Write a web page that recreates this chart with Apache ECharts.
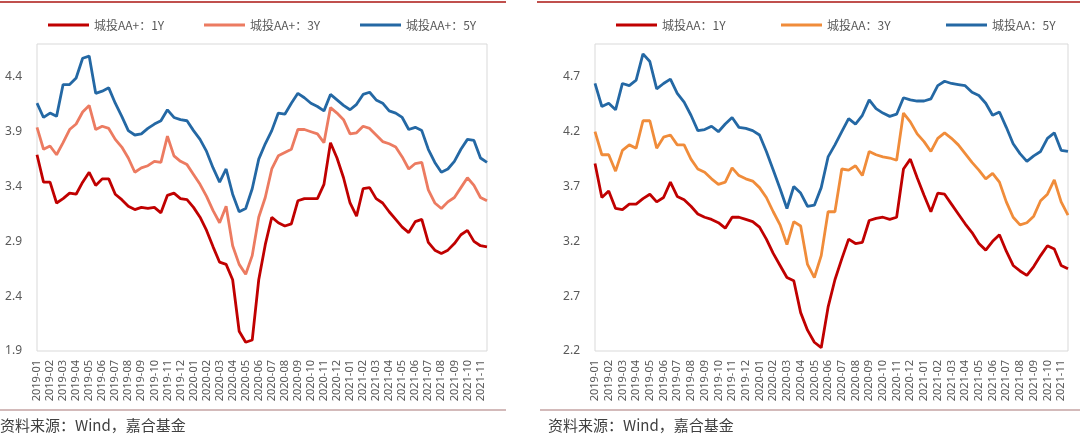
<!DOCTYPE html>
<html><head><meta charset="utf-8">
<script src="https://cdn.jsdelivr.net/npm/echarts@6/dist/echarts.min.js"></script>
<style>html,body{margin:0;padding:0;background:#fff}#c{width:1080px;height:435px}</style>
</head><body><div id="c"></div>
<script>
// tick labels (months); two observations per month (1st & 16th)
const months = ['2019-01','2019-02','2019-03','2019-04','2019-05','2019-06','2019-07','2019-08','2019-09','2019-10','2019-11','2019-12',
  '2020-01','2020-02','2020-03','2020-04','2020-05','2020-06','2020-07','2020-08','2020-09','2020-10','2020-11','2020-12',
  '2021-01','2021-02','2021-03','2021-04','2021-05','2021-06','2021-07','2021-08','2021-09','2021-10','2021-11'];
const halfDays = ['01','16'];
const categories = [];
months.forEach(m => halfDays.forEach(d => categories.push(m + '-' + d)));

const aaPlus1Y = [3.69,3.44,3.44,3.25,3.29,3.34,3.33,3.44,3.53,3.41,
  3.47,3.47,3.33,3.28,3.22,3.19,3.21,3.20,3.21,3.16,
  3.32,3.34,3.29,3.28,3.21,3.12,3.00,2.85,2.71,2.69,
  2.55,2.08,1.98,2.00,2.55,2.87,3.12,3.07,3.04,3.06,
  3.27,3.29,3.29,3.29,3.42,3.80,3.66,3.48,3.25,3.13,
  3.38,3.39,3.29,3.25,3.17,3.10,3.03,2.98,3.08,3.10,
  2.89,2.82,2.79,2.82,2.88,2.96,3.00,2.90,2.86,2.85];
const aaPlus3Y = [3.94,3.74,3.77,3.69,3.80,3.92,3.97,4.08,4.14,3.92,
  3.95,3.93,3.83,3.76,3.66,3.53,3.57,3.59,3.63,3.62,
  3.86,3.68,3.63,3.60,3.51,3.42,3.31,3.18,3.07,3.22,
  2.86,2.69,2.60,2.77,3.12,3.30,3.56,3.68,3.71,3.74,
  3.92,3.92,3.90,3.88,3.80,4.12,4.07,4.01,3.88,3.89,
  3.95,3.93,3.87,3.81,3.79,3.76,3.67,3.56,3.61,3.62,
  3.37,3.25,3.20,3.26,3.30,3.39,3.48,3.41,3.30,3.27];
const aaPlus5Y = [4.16,4.03,4.07,4.04,4.33,4.33,4.39,4.57,4.59,4.25,
  4.27,4.30,4.16,4.04,3.91,3.87,3.88,3.93,3.97,4.00,
  4.10,4.03,4.01,4.00,3.91,3.83,3.72,3.57,3.44,3.56,
  3.33,3.17,3.20,3.38,3.65,3.79,3.91,4.07,4.06,4.16,
  4.25,4.21,4.16,4.13,4.09,4.24,4.19,4.14,4.10,4.15,
  4.24,4.26,4.19,4.16,4.09,4.07,4.03,3.92,3.94,3.91,
  3.74,3.62,3.53,3.56,3.63,3.74,3.83,3.82,3.66,3.62];
const aa1Y = [3.91,3.60,3.66,3.50,3.49,3.54,3.54,3.59,3.63,3.56,
  3.60,3.74,3.61,3.58,3.52,3.45,3.42,3.40,3.37,3.32,
  3.42,3.42,3.40,3.38,3.33,3.22,3.09,2.98,2.87,2.84,
  2.55,2.39,2.28,2.23,2.60,2.85,3.04,3.22,3.18,3.19,
  3.39,3.41,3.42,3.40,3.42,3.86,3.95,3.78,3.62,3.47,
  3.64,3.63,3.54,3.45,3.36,3.28,3.18,3.12,3.20,3.26,
  3.11,2.98,2.93,2.89,2.97,3.07,3.16,3.13,2.98,2.95];
const aa3Y = [4.20,3.99,3.99,3.84,4.03,4.08,4.05,4.30,4.30,4.05,
  4.15,4.17,4.08,4.08,3.95,3.86,3.83,3.77,3.72,3.74,
  3.87,3.80,3.77,3.75,3.69,3.60,3.47,3.35,3.17,3.38,
  3.34,2.99,2.87,3.07,3.47,3.47,3.86,3.85,3.89,3.80,
  4.02,3.99,3.97,3.96,3.94,4.37,4.29,4.18,4.11,4.02,
  4.14,4.19,4.14,4.08,4.00,3.92,3.85,3.77,3.82,3.74,
  3.56,3.42,3.35,3.37,3.43,3.57,3.63,3.76,3.56,3.44];
const aa5Y = [4.64,4.43,4.46,4.40,4.64,4.62,4.67,4.91,4.84,4.59,
  4.64,4.68,4.55,4.47,4.35,4.21,4.22,4.25,4.20,4.27,
  4.33,4.24,4.23,4.21,4.17,4.02,3.85,3.68,3.50,3.70,
  3.64,3.52,3.53,3.69,3.97,4.08,4.20,4.32,4.27,4.35,
  4.49,4.41,4.37,4.34,4.36,4.51,4.49,4.48,4.48,4.50,
  4.62,4.66,4.64,4.63,4.62,4.56,4.53,4.46,4.35,4.38,
  4.24,4.09,4.00,3.93,3.98,4.02,4.14,4.19,4.03,4.02];

const names = ['城投AA+：1Y','城投AA+：3Y','城投AA+：5Y','城投AA：1Y','城投AA：3Y','城投AA：5Y'];
const colors = ['#C00000','#EC7B61','#2468A4','#C00000','#F08C3A','#2468A4'];
const source = '资料来源：Wind，嘉合基金';

const labelColor = '#595959';
const numFont = 'Noto Sans';
const cjkFont = 'Noto Sans CJK SC';

function xAxis(gi){
  return {type:'category', gridIndex:gi, data:categories, boundaryGap:false,
    axisLine:{show:false}, axisTick:{show:false}, splitLine:{show:false},
    axisLabel:{interval:1, rotate:90, margin:9, fontSize:11, color:labelColor, fontFamily:numFont,
      formatter: v => v.slice(0,7)}};
}
function yAxis(gi,min,max){
  return {type:'value', gridIndex:gi, min:min, max:max, interval:0.5,
    axisLine:{show:false}, axisTick:{show:false}, splitLine:{show:false},
    axisLabel:{showMaxLabel:false, margin:15, fontSize:12, color:labelColor, fontFamily:numFont,
      formatter: v => v.toFixed(1)}};
}
function series(i, data, gi){
  return {name:names[i], type:'line', xAxisIndex:gi, yAxisIndex:gi, data:data,
    showSymbol:false, symbol:'none', lineStyle:{width:2.8, color:colors[i]}, itemStyle:{color:colors[i]}};
}
const legendX = [43,199,355,611,776,941];
const legends = names.map((n,i) => ({data:[n], left:legendX[i], top:14, icon:'rect', itemWidth:41, itemHeight:3,
  textStyle:{fontSize:12, color:labelColor, fontFamily:cjkFont}, selectedMode:false}));

const chart = echarts.init(document.getElementById('c'));
chart.setOption({
  animation:false,
  backgroundColor:'#fff',
  legend: legends,
  grid:[
    {left:37, top:44, width:450, height:307, show:true, borderColor:'#D9D9D9', borderWidth:1, containLabel:false},
    {left:595, top:44, width:473, height:307, show:true, borderColor:'#D9D9D9', borderWidth:1, containLabel:false}
  ],
  xAxis:[xAxis(0), xAxis(1)],
  yAxis:[yAxis(0,1.9,4.7), yAxis(1,2.2,5.0)],
  series:[series(0,aaPlus1Y,0), series(1,aaPlus3Y,0), series(2,aaPlus5Y,0),
          series(3,aa1Y,1), series(4,aa3Y,1), series(5,aa5Y,1)],
  graphic:[
    {type:'line', shape:{x1:0,y1:2,x2:506,y2:2}, style:{stroke:'#C0504D', lineWidth:2}},
    {type:'line', shape:{x1:537,y1:2,x2:1080,y2:2}, style:{stroke:'#C0504D', lineWidth:2}},
    {type:'line', shape:{x1:0,y1:410,x2:506,y2:410}, style:{stroke:'#C4A3A3', lineWidth:1.5}},
    {type:'line', shape:{x1:540,y1:410,x2:1080,y2:410}, style:{stroke:'#C4A3A3', lineWidth:1.5}},
    {type:'text', left:0, top:418, style:{text:source, fontSize:15, fill:'#404040', fontFamily:cjkFont}},
    {type:'text', left:548, top:418, style:{text:source, fontSize:15, fill:'#404040', fontFamily:cjkFont}}
  ]
});
</script></body></html>
